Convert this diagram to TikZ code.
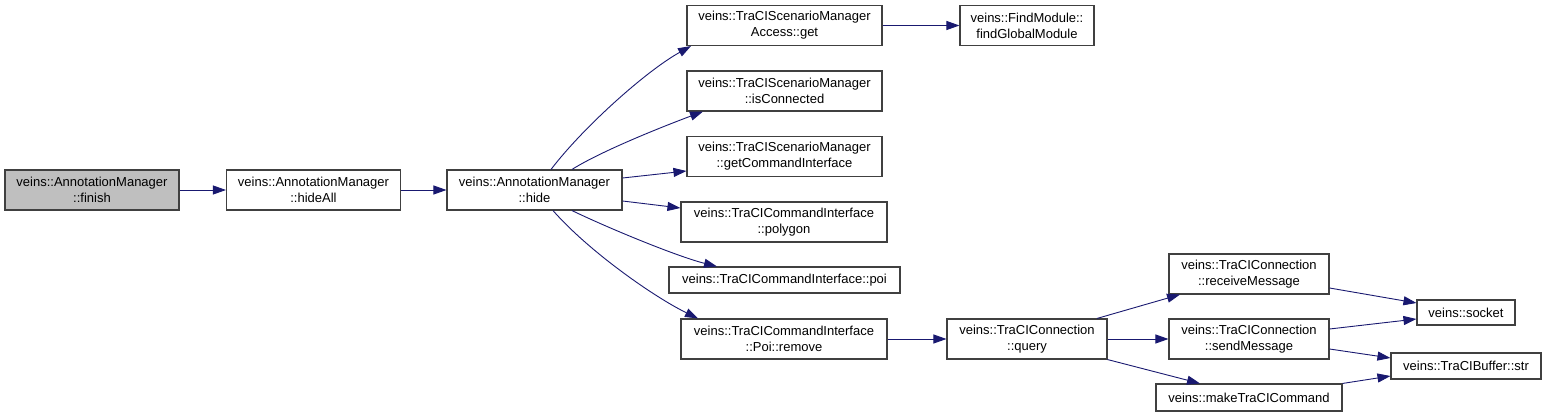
\documentclass[tikz,border=0pt]{standalone}
\usepackage{fontspec}
\setmainfont{Liberation Sans}
\usetikzlibrary{arrows.meta}
\definecolor{edgeblue}{HTML}{191970}
\definecolor{boxgray}{HTML}{BFBFBF}

\begin{document}
\begin{tikzpicture}[x=1pt, y=-1pt,
    fnbox/.style={draw=black!75, line width=1.1pt, fill=white, inner sep=0pt,
        align=center, font=\fontsize{13}{16}\selectfont},
    rootbox/.style={fnbox, fill=boxgray},
    call/.style={-{Triangle[length=13pt,width=9pt]}, draw=edgeblue, line width=0.9pt}]
    \useasboundingbox (0,0) rectangle (1548,417);

    % Caller chain
    \node[rootbox, minimum width=174pt, minimum height=40pt] (finish) at (92,190)
        {veins::AnnotationManager\\::finish};
    \node[fnbox, minimum width=174pt, minimum height=40pt] (hideAll) at (313.5,190)
        {veins::AnnotationManager\\::hideAll};
    \node[fnbox, minimum width=175pt, minimum height=40pt] (hide) at (534.5,190)
        {veins::AnnotationManager\\::hide};

    % Called by hide
    \node[fnbox, minimum width=195pt, minimum height=40pt] (accGet) at (784.5,25.5)
        {veins::TraCIScenarioManager\\Access::get};
    \node[fnbox, minimum width=195pt, minimum height=40pt] (isConn) at (784.5,91)
        {veins::TraCIScenarioManager\\::isConnected};
    \node[fnbox, minimum width=195pt, minimum height=40pt] (getCmd) at (784.5,156.5)
        {veins::TraCIScenarioManager\\::getCommandInterface};
    \node[fnbox, minimum width=206pt, minimum height=40pt] (polygon) at (784,222)
        {veins::TraCICommandInterface\\::polygon};
    \node[fnbox, minimum width=231pt, minimum height=26pt] (poi) at (784.5,280)
        {veins::TraCICommandInterface::poi};
    \node[fnbox, minimum width=206pt, minimum height=40pt] (remove) at (784,339)
        {veins::TraCICommandInterface\\::Poi::remove};

    % Further down
    \node[fnbox, minimum width=134pt, minimum height=40pt] (findMod) at (1027,25.5)
        {veins::FindModule::\\findGlobalModule};
    \node[fnbox, minimum width=160pt, minimum height=40pt] (query) at (1027,339)
        {veins::TraCIConnection\\::query};
    \node[fnbox, minimum width=160pt, minimum height=40pt] (recvMsg) at (1249,274)
        {veins::TraCIConnection\\::receiveMessage};
    \node[fnbox, minimum width=160pt, minimum height=40pt] (sendMsg) at (1249,339)
        {veins::TraCIConnection\\::sendMessage};
    \node[fnbox, minimum width=186pt, minimum height=27pt] (makeCmd) at (1249,397.5)
        {veins::makeTraCICommand};
    \node[fnbox, minimum width=98pt, minimum height=25pt] (socket) at (1466,312.5)
        {veins::socket};
    \node[fnbox, minimum width=150pt, minimum height=26pt] (str) at (1466,366)
        {veins::TraCIBuffer::str};

    % Straight calls
    \draw[call] (finish.east) -- (hideAll.west);
    \draw[call] (hideAll.east) -- (hide.west);
    \draw[call] (accGet.east) -- (findMod.west);
    \draw[call] (remove.east) -- (query.west);
    \draw[call] (query.east) -- (sendMsg.west);

    % Curved calls out of hide
    \draw[call] ([xshift=16.5pt]hide.north) .. controls +(32,-42) and +(-45,25) .. ([xshift=-93.5pt]accGet.south);
    \draw[call] ([xshift=37.5pt]hide.north) .. controls +(30,-19) and +(-35,13) .. ([xshift=-81.5pt]isConn.south);
    \draw[call] ([yshift=12pt]hide.east) -- ([yshift=-14.5pt]getCmd.west);
    \draw[call] ([yshift=-11pt]hide.east) -- ([yshift=14pt]polygon.west);
    \draw[call] ([xshift=37.5pt]hide.south) .. controls +(35,17) and +(-40,-10) .. ([xshift=-67.5pt]poi.north);
    \draw[call] ([xshift=18.5pt]hide.south) .. controls +(35,40) and +(-45,-22) .. ([xshift=-86pt]remove.north);

    % Calls out of query and on
    \draw[call] ([xshift=70pt]query.north) -- ([xshift=-69pt]recvMsg.south);
    \draw[call] (query.south east) -- ([xshift=-49pt]makeCmd.north);
    \draw[call] ([yshift=-14pt]recvMsg.east) -- ([yshift=9.5pt]socket.west);
    \draw[call] ([yshift=10pt]sendMsg.east) -- ([yshift=-6.5pt]socket.west);
    \draw[call] ([yshift=-10pt]sendMsg.east) -- ([yshift=8pt]str.west);
    \draw[call] (makeCmd.north east) -- ([yshift=-10pt]str.west);
\end{tikzpicture}
\end{document}
